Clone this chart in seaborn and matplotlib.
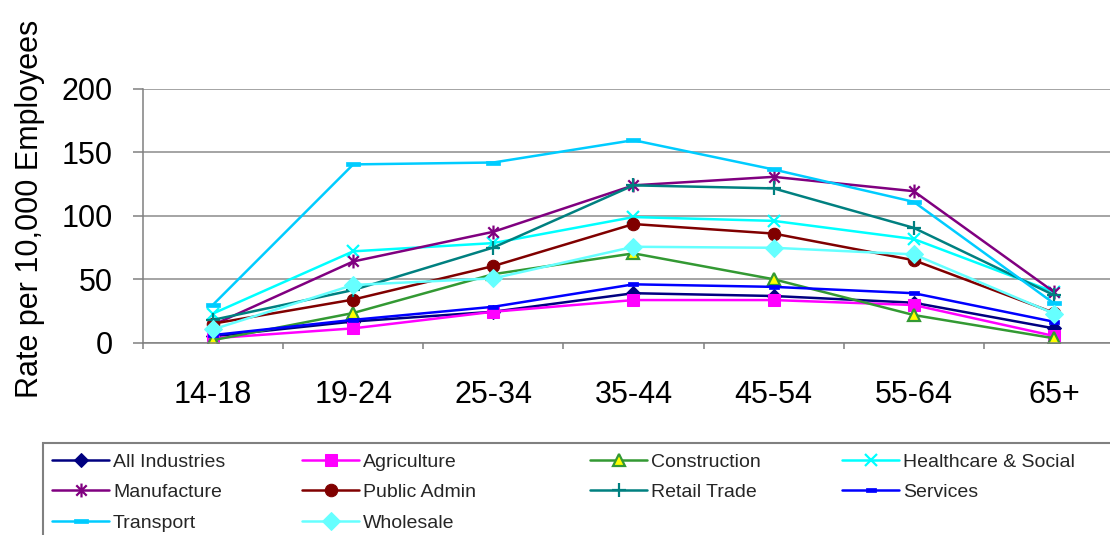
import numpy as np
import pandas as pd
import matplotlib
matplotlib.use("Agg")
import matplotlib.pyplot as plt
from matplotlib.path import Path
from matplotlib.patches import Rectangle
from matplotlib.ticker import FixedLocator
import seaborn as sns

# Injury rate per 10,000 employees by age group and industry
ages = ["14-18", "19-24", "25-34", "35-44", "45-54", "55-64", "65+"]

all_industries = [5, 16.7, 24.4, 39, 36.8, 31.5, 11.3]
agriculture = [3.5, 11.3, 24.4, 33.6, 33.6, 29.7, 5.3]
construction = [2, 23.4, 54, 70.4, 50, 21.8, 3.5]
healthcare = [23, 72, 78.5, 99, 96, 81.7, 40]
manufacture = [14, 64, 87.4, 124, 130.7, 119.4, 40]
public_admin = [15, 34, 60.4, 93.5, 86, 65, 23.6]
retail_trade = [18, 41.5, 75, 124, 121.6, 90.5, 37.5]
services = [6, 18, 28.3, 46, 44, 39, 16.5]
transport = [30, 140.5, 142, 159.6, 136.5, 111, 31]
wholesale = [10.5, 45.5, 50.7, 75.6, 74.8, 69.6, 23]

series_names = ["All Industries", "Agriculture", "Construction", "Healthcare & Social",
                "Manufacture", "Public Admin", "Retail Trade", "Services",
                "Transport", "Wholesale"]
series_values = [all_industries, agriculture, construction, healthcare, manufacture,
                 public_admin, retail_trade, services, transport, wholesale]

# Marker shapes
dash = Path([(-1, -0.34), (1, -0.34), (1, 0.34), (-1, 0.34), (-1, -0.34)],
            [Path.MOVETO, Path.LINETO, Path.LINETO, Path.LINETO, Path.CLOSEPOLY])
asterisk = Path([(0, -1), (0, 1), (-0.75, -0.75), (0.75, 0.75), (-0.75, 0.75), (0.75, -0.75)],
                [Path.MOVETO, Path.LINETO, Path.MOVETO, Path.LINETO, Path.MOVETO, Path.LINETO])

styles = {
    "All Industries": dict(color="#000080", marker="D", markersize=7, mfc="#000080", mec="#000080"),
    "Agriculture": dict(color="#FF00FF", marker="s", markersize=8.5, mfc="#FF00FF", mec="#FF00FF"),
    "Construction": dict(color="#339933", marker="^", markersize=9, mfc="#FFFF00", mec="#339933", mew=1.6),
    "Healthcare & Social": dict(color="#00FFFF", marker="x", markersize=9, mec="#00FFFF", mew=1.6),
    "Manufacture": dict(color="#800080", marker=asterisk, markersize=10, mfc="none", mec="#800080", mew=1.6),
    "Public Admin": dict(color="#800000", marker="o", markersize=9, mfc="#800000", mec="#800000"),
    "Retail Trade": dict(color="#008080", marker="+", markersize=10, mec="#008080", mew=1.6),
    "Services": dict(color="#0000FF", marker=dash, markersize=6.5, mfc="#0000FF", mec="#0000FF", mew=0.5),
    "Transport": dict(color="#00CCFF", marker=dash, markersize=10.5, mfc="#00CCFF", mec="#00CCFF", mew=0.5),
    "Wholesale": dict(color="#66FFFF", marker="D", markersize=9, mfc="#66FFFF", mec="#66FFFF"),
}

sns.set_theme(style="white")
plt.rcParams["font.family"] = ["Liberation Sans", "DejaVu Sans"]

W, H = 1110, 535
fig = plt.figure(figsize=(W / 100, H / 100), dpi=100)
ax = fig.add_axes([143 / W, 1 - 342.7 / H, 981 / W, (342.7 - 88.9) / H])

handles = {}
for name, vals in zip(series_names, series_values):
    df = pd.DataFrame({"age": ages, "rate": vals})
    sns.lineplot(data=df, x="age", y="rate", ax=ax, sort=False, linewidth=1.8,
                 legend=False, **styles[name])
    handles[name] = ax.lines[-1]

ax.set_xlim(-0.5, 6.5)
ax.set_ylim(0, 200)
ax.set_yticks([0, 50, 100, 150, 200])
ax.set_xlabel("")
ax.set_ylabel("Rate per 10,000 Employees", fontsize=22, color="black", va="center")
ax.yaxis.set_label_coords((30 - 143) / 981, (342.7 - 209) / 253.8)

ax.yaxis.grid(True, color="#8C8C8C", linewidth=1.1)
ax.xaxis.grid(False)
ax.set_axisbelow(True)
for side in ["top", "right"]:
    ax.spines[side].set_visible(False)
for side in ["left", "bottom"]:
    ax.spines[side].set_color("#808080")
    ax.spines[side].set_linewidth(1.1)

ax.xaxis.set_minor_locator(FixedLocator(np.arange(-0.5, 7, 1)))
ax.tick_params(axis="x", which="major", length=0, pad=27, labelsize=22, labelcolor="black")
ax.tick_params(axis="x", which="minor", length=4, width=1.1, color="#808080", direction="out", bottom=True)
ax.tick_params(axis="y", which="major", length=7, width=1.1, color="#808080", direction="out",
               left=True, pad=15, labelsize=22, labelcolor="black")

# Legend box spanning the bottom of the figure
fig.add_artist(Rectangle((43 / W, -0.1), 1.2, (535 - 443) / H + 0.1, transform=fig.transFigure,
                         fill=False, edgecolor="#808080", linewidth=1.5))

columns = [["All Industries", "Manufacture", "Transport"],
           ["Agriculture", "Public Admin", "Wholesale"],
           ["Construction", "Retail Trade"],
           ["Healthcare & Social", "Services"]]
col_x = [52, 302, 590, 842]
for names, x in zip(columns, col_x):
    fig.legend([handles[n] for n in names], names, loc="upper left",
               bbox_to_anchor=(x / W, 1 - 453 / H), frameon=False, borderpad=0,
               borderaxespad=0, handlelength=2.94, handletextpad=0.2,
               labelspacing=0.66, fontsize=14)

fig.savefig("out.png", dpi=100)
